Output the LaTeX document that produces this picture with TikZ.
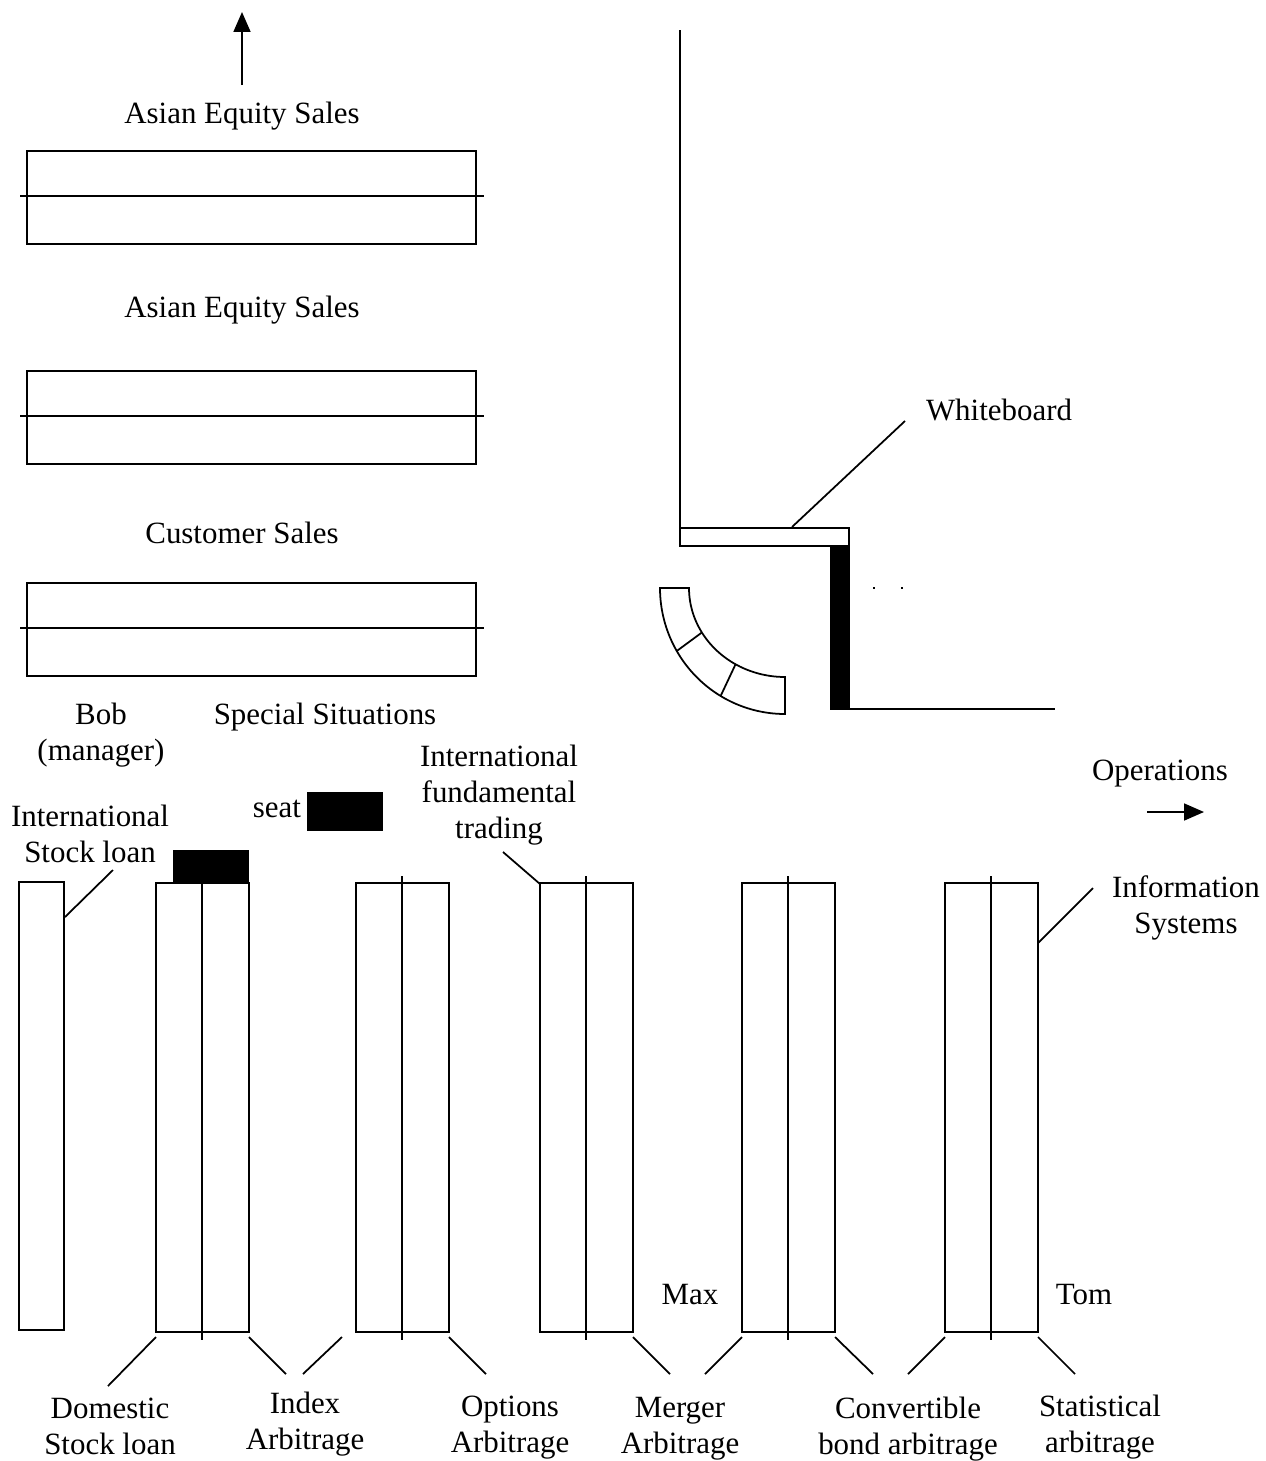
\documentclass[tikz,border=0pt]{standalone}
\usepackage{fontspec}
\setmainfont{Liberation Serif}
\usetikzlibrary{arrows.meta}

\begin{document}
\begin{tikzpicture}[x=0.02cm, y=-0.02cm, line width=1pt,
        pointer/.style={-{Triangle[length=0.4cm, width=0.34cm]}},
        block/.style={fill=black}]
      \tikzstyle{word} = [font=\fontsize{17.6}{20.5}\selectfont, inner sep=0pt, align=center, yshift=-0.06cm]
      \tikzstyle{leader} = [line width=1pt]
      \useasboundingbox (0,0) rectangle (1266,1461);
      % sales rows
      \foreach \y in {151,371,583} {
        \draw (27,\y) rectangle (476,\y+93);
        \draw (20,\y+45) -- (484,\y+45);
      }
      \node (AsiaTop) [word] at (242,113) {Asian Equity Sales};
      \node (AsiaMid) [word] at (242,307) {Asian Equity Sales};
      \node (CustSales) [word] at (242,530) {Customer Sales};
      \node (Bob) [word] at (101,732) {Bob\\(manager)};
      \node (SpecSit) [word] at (325,714) {Special Situations};
      \coordinate (AsiaFoot) at (242,85);
      \coordinate (AsiaTip) at (242,12);
      \draw[pointer] (AsiaFoot) -- (AsiaTip);
      % wall, whiteboard and bench
      \draw (680,30) -- (680,528);
      \draw (680,528) rectangle (849,546);
      \fill[block] (830,546) rectangle (850,710);
      \draw (850,709) -- (1055,709);
      \fill (873,587) rectangle ++(2,1.5);
      \fill (901,587) rectangle ++(2,1.5);
      \node (Whiteboard) [word] at (999,407) {Whiteboard};
      \coordinate (BoardEdge) at (792,527);
      \coordinate (BoardTag) at (905,421);
      \draw[leader] (BoardEdge) -- (BoardTag);
      \draw plot[domain=180:90, samples=40, smooth] ({785+125*cos(\x)},{588+126*sin(\x)})
        -- plot[domain=90:180, samples=40, smooth] ({785+96*cos(\x)},{588+89*sin(\x)}) -- cycle;
      \foreach \a in {150,121} {
        \draw ({785+96*cos(\a)},{588+89*sin(\a)}) -- ({785+125*cos(\a)},{588+126*sin(\a)});
      }
      % trading desks
      \draw (19,882) rectangle (64,1330);
      \foreach \n/\x in {1/156,2/356,3/540,4/742,5/945} {
        \draw (\x,883) rectangle (\x+93,1332);
        \draw (\x+46,876) -- (\x+46,1340);
        \coordinate (Desk\n-sw) at (\x,1337);
        \coordinate (Desk\n-se) at (\x+93,1337);
      }
      \fill[block] (173,850) rectangle (249,883);
      \fill[block] (307,792) rectangle (383,831);
      \node (Seat) [word] at (277,806) {seat};
      \node (IntlLoan) [word] at (90,831) {International\\Stock loan};
      \coordinate (Desk0-e) at (65,917);
      \coordinate (IntlLoanTag) at (113,870);
      \draw[leader] (Desk0-e) -- (IntlLoanTag);
      \node (IntlFund) [word] at (499,792) {International\\fundamental\\trading};
      \coordinate (IntlFundTag) at (503,852);
      \coordinate (Desk3-nw) at (540,884);
      \draw[leader] (IntlFundTag) -- (Desk3-nw);
      \node (Ops) [word] at (1160,771) {Operations};
      \coordinate (OpsFoot) at (1147,812);
      \coordinate (OpsTip) at (1204,812);
      \draw[pointer] (OpsFoot) -- (OpsTip);
      \node (InfoSys) [word] at (1186,905) {Information\\Systems};
      \coordinate (InfoSysTag) at (1093,888);
      \coordinate (Desk5-e) at (1038,943);
      \draw[leader] (InfoSysTag) -- (Desk5-e);
      \node (Max) [word] at (690,1292) {Max};
      \node (Tom) [word] at (1084,1292) {Tom};
      % desk labels
      \node (DomLoan) [word] at (110,1423) {Domestic\\Stock loan};
      \node (IndexArb) [word] at (305,1421) {Index\\Arbitrage};
      \node (OptArb) [word] at (510,1425) {Options\\Arbitrage};
      \node (MergerArb) [word] at (680,1426) {Merger\\Arbitrage};
      \node (ConvArb) [word] at (908,1426) {Convertible\\bond arbitrage};
      \node (StatArb) [word] at (1100,1424) {Statistical\\arbitrage};
      \coordinate (Desk2-gap) at (342,1337);
      \coordinate (DomTag) at (108,1386);
      \coordinate (IndexTagA) at (286,1374);
      \coordinate (IndexTagB) at (303,1374);
      \coordinate (OptTag) at (486,1374);
      \coordinate (MergerTagA) at (670,1374);
      \coordinate (MergerTagB) at (705,1374);
      \coordinate (ConvTagA) at (873,1374);
      \coordinate (ConvTagB) at (908,1374);
      \coordinate (StatTag) at (1075,1374);
      \draw[leader] (Desk1-sw) -- (DomTag);
      \draw[leader] (Desk1-se) -- (IndexTagA);
      \draw[leader] (Desk2-gap) -- (IndexTagB);
      \draw[leader] (Desk2-se) -- (OptTag);
      \draw[leader] (Desk3-se) -- (MergerTagA);
      \draw[leader] (Desk4-sw) -- (MergerTagB);
      \draw[leader] (Desk4-se) -- (ConvTagA);
      \draw[leader] (Desk5-sw) -- (ConvTagB);
      \draw[leader] (Desk5-se) -- (StatTag);
    \end{tikzpicture}
\end{document}
